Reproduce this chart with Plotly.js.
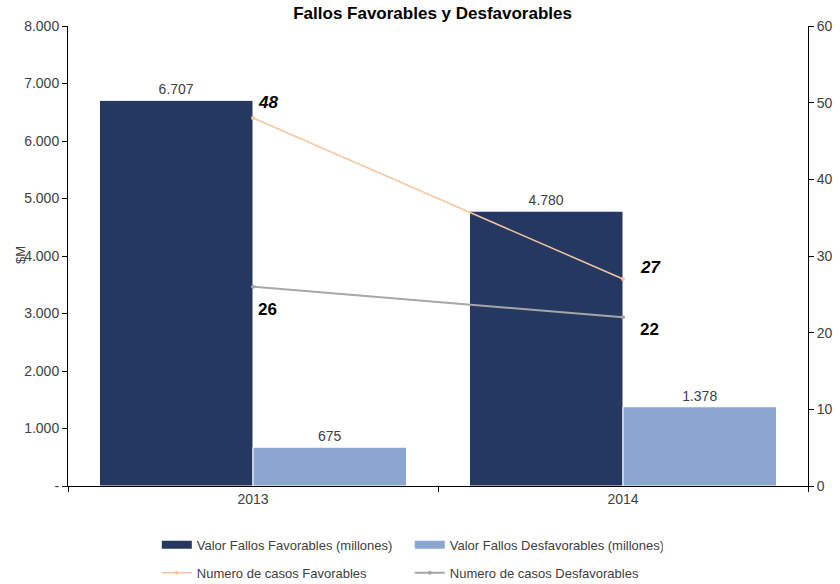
<!DOCTYPE html>
<html>
<head>
<meta charset="utf-8">
<script src="https://cdn.plot.ly/plotly-3.0.1.min.js"></script>
<style>html,body{margin:0;padding:0;background:#fff;}</style>
</head>
<body>
<div id="chart" style="width:840px;height:584px;"></div>
<script>
const years = ['2013', '2014'];
const valorFavorables = [6707, 4780];
const valorDesfavorables = [675, 1378];
const casosFavorables = [48, 27];
const casosDesfavorables = [26, 22];
const leftTickVals = [0, 1000, 2000, 3000, 4000, 5000, 6000, 7000, 8000];
const leftTickText = ['-', '1.000', '2.000', '3.000', '4.000', '5.000', '6.000', '7.000', '8.000'];
const rightTickVals = [0, 10, 20, 30, 40, 50, 60];

const fontFam = 'Liberation Sans, Arial, sans-serif';
const txtColor = '#404040';
const colFav = '#253862', colDesf = '#8ca7cf', colLineFav = '#f7c6a0', colLineDesf = '#a6a6a6';

const traces = [
  {
    type: 'bar', name: 'Valor Fallos Favorables (millones)', x: years, y: valorFavorables, showlegend: false,
    marker: {color: colFav, line: {color: '#ffffff', width: 1}},
    texttemplate: '%{y:,}', textposition: 'outside',
    textfont: {family: fontFam, size: 14, color: txtColor}, cliponaxis: false
  },
  {
    type: 'bar', name: 'Valor Fallos Desfavorables (millones)', x: years, y: valorDesfavorables, showlegend: false,
    marker: {color: colDesf, line: {color: '#ffffff', width: 1}},
    texttemplate: '%{y:,}', textposition: 'outside',
    textfont: {family: fontFam, size: 14, color: txtColor}, cliponaxis: false
  },
  {
    type: 'scatter', mode: 'lines+markers', name: 'Numero de casos Favorables', x: years, y: casosFavorables,
    yaxis: 'y2', legend: 'legend2', line: {color: colLineFav, width: 1.5}, marker: {color: colLineFav, size: 4},
    cliponaxis: false
  },
  {
    type: 'scatter', mode: 'lines+markers', name: 'Numero de casos Desfavorables', x: years, y: casosDesfavorables,
    yaxis: 'y2', legend: 'legend2', line: {color: colLineDesf, width: 2}, marker: {color: colLineDesf, size: 4},
    cliponaxis: false
  },
  // legend swatches for the bar series (wide rectangles like the reference), on hidden axes
  {type: 'scatter', mode: 'lines', name: 'Valor Fallos Favorables (millones)', x: [null], y: [null],
   xaxis: 'x2', yaxis: 'y3', line: {color: colFav, width: 8}, legend: 'legend', hoverinfo: 'skip'},
  {type: 'scatter', mode: 'lines', name: 'Valor Fallos Desfavorables (millones)', x: [null], y: [null],
   xaxis: 'x2', yaxis: 'y3', line: {color: colDesf, width: 8}, legend: 'legend', hoverinfo: 'skip'}
];

// point labels for the case counts (x given as category index)
const labelStyle = [
  {series: casosFavorables, italic: true, shifts: [[3, 16], [15, 12]]},
  {series: casosDesfavorables, italic: false, shifts: [[3, -23], [15, -12]]}
];
const annotations = [];
labelStyle.forEach(s => {
  s.series.forEach((v, i) => {
    annotations.push({
      xref: 'x', yref: 'y2', x: i, y: v,
      text: s.italic ? '<i><b>' + v + '</b></i>' : '<b>' + v + '</b>',
      showarrow: false, xanchor: 'left', yanchor: 'middle',
      xshift: s.shifts[i][0], yshift: s.shifts[i][1],
      font: {family: fontFam, size: 17, color: '#000000'}
    });
  });
});
annotations.push({text: '$M', xref: 'paper', yref: 'paper', x: (20 - 68) / 740, y: (486 - 255) / 460,
  xanchor: 'center', yanchor: 'middle', showarrow: false, textangle: -90,
  font: {family: fontFam, size: 13, color: txtColor}});

const legendCommon = {orientation: 'h', xanchor: 'left', yanchor: 'top', x: 0.12,
  entrywidth: 208, entrywidthmode: 'pixels', traceorder: 'normal', itemwidth: 30,
  font: {family: fontFam, size: 13, color: txtColor}, bgcolor: 'rgba(0,0,0,0)'};

const layout = {
  width: 840, height: 584,
  margin: {l: 68, r: 32, t: 26, b: 98, autoexpand: false},
  paper_bgcolor: '#ffffff', plot_bgcolor: '#ffffff',
  separators: ',.',
  font: {family: fontFam, color: txtColor, size: 13},
  title: {text: '<b>Fallos Favorables y Desfavorables</b>', x: 0.515, xanchor: 'center', y: 0.977, yanchor: 'middle',
          font: {family: fontFam, size: 17, color: '#000000'}},
  barmode: 'group', bargap: 0.17, bargroupgap: 0,
  showlegend: true,
  legend: Object.assign({}, legendCommon, {y: -0.095}),
  legend2: Object.assign({}, legendCommon, {y: -0.156}),
  xaxis: {type: 'category', range: [-0.5, 1.5], showline: true, linecolor: '#000000', linewidth: 1,
          ticks: 'outside', tickson: 'boundaries', ticklen: 5, tickcolor: '#000000',
          showgrid: false, zeroline: false, tickfont: {size: 14, color: txtColor}, tickangle: 0},
  xaxis2: {overlaying: 'x', visible: false, range: [0, 1]},
  yaxis: {range: [0, 8000], tickvals: leftTickVals, ticktext: leftTickText,
          showline: true, linecolor: '#000000', linewidth: 1, ticks: 'outside', ticklen: 5,
          tickcolor: '#000000', showgrid: false, zeroline: false, tickfont: {size: 14, color: txtColor}},
  yaxis2: {range: [0, 60], tickvals: rightTickVals, overlaying: 'y', side: 'right',
           showline: true, linecolor: '#000000', linewidth: 1, ticks: 'outside', ticklen: 5,
           tickcolor: '#000000', showgrid: false, zeroline: false, tickfont: {size: 14, color: txtColor}},
  yaxis3: {overlaying: 'y', visible: false, range: [0, 1]},
  annotations: annotations
};

Plotly.newPlot('chart', traces, layout, {displayModeBar: false, staticPlot: true});
</script>
</body>
</html>
